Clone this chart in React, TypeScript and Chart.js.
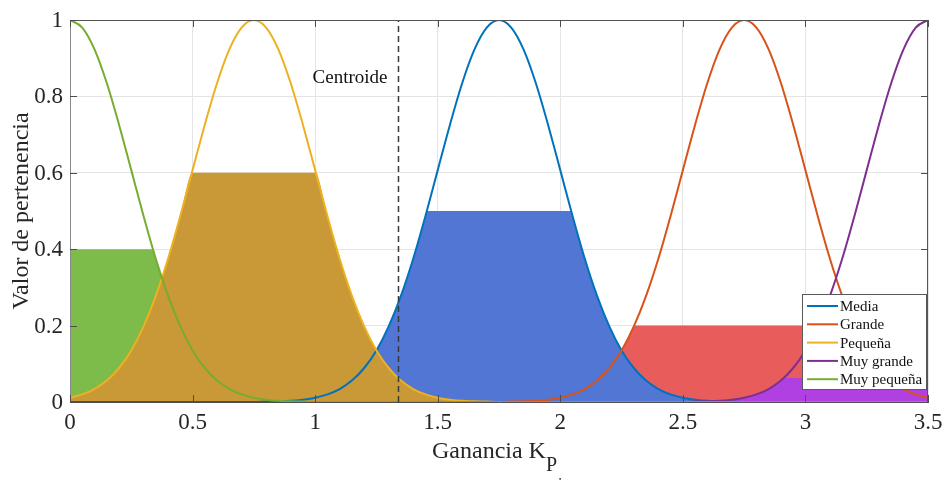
import { useEffect, useRef } from 'react';
import { Chart, registerables } from 'chart.js';

Chart.register(...registerables);

const FONT = '"Liberation Serif", "Times New Roman", serif';

// x sampling grid (Ganancia K_Pi)
const xValues = [
  0, 0.05, 0.1, 0.15, 0.2, 0.25, 0.3, 0.35, 0.4, 0.45,
  0.5, 0.55, 0.6, 0.65, 0.7, 0.75, 0.8, 0.85, 0.9, 0.95,
  1, 1.05, 1.1, 1.15, 1.2, 1.25, 1.3, 1.35, 1.4, 1.45,
  1.5, 1.55, 1.6, 1.65, 1.7, 1.75, 1.8, 1.85, 1.9, 1.95,
  2, 2.05, 2.1, 2.15, 2.2, 2.25, 2.3, 2.35, 2.4, 2.45,
  2.5, 2.55, 2.6, 2.65, 2.7, 2.75, 2.8, 2.85, 2.9, 2.95,
  3, 3.05, 3.1, 3.15, 3.2, 3.25, 3.3, 3.35, 3.4, 3.45,
  3.5,
];

const muyPequena = [
  1, 0.98, 0.923, 0.835, 0.726, 0.607, 0.487, 0.375, 0.278, 0.198,
  0.135, 0.089, 0.056, 0.034, 0.02, 0.011, 0.006, 0.003, 0.002, 0.001,
  0, 0, 0, 0, 0, 0, 0, 0, 0, 0,
  0, 0, 0, 0, 0, 0, 0, 0, 0, 0,
  0, 0, 0, 0, 0, 0, 0, 0, 0, 0,
  0, 0, 0, 0, 0, 0, 0, 0, 0, 0,
  0, 0, 0, 0, 0, 0, 0, 0, 0, 0,
  0,
];

const pequena = [
  0.011, 0.02, 0.034, 0.056, 0.089, 0.135, 0.198, 0.278, 0.375, 0.487,
  0.607, 0.726, 0.835, 0.923, 0.98, 1, 0.98, 0.923, 0.835, 0.726,
  0.607, 0.487, 0.375, 0.278, 0.198, 0.135, 0.089, 0.056, 0.034, 0.02,
  0.011, 0.006, 0.003, 0.002, 0.001, 0, 0, 0, 0, 0,
  0, 0, 0, 0, 0, 0, 0, 0, 0, 0,
  0, 0, 0, 0, 0, 0, 0, 0, 0, 0,
  0, 0, 0, 0, 0, 0, 0, 0, 0, 0,
  0,
];

const media = [
  0, 0, 0, 0, 0, 0, 0, 0, 0, 0,
  0, 0, 0, 0, 0, 0, 0.001, 0.002, 0.003, 0.006,
  0.011, 0.02, 0.034, 0.056, 0.089, 0.135, 0.198, 0.278, 0.375, 0.487,
  0.607, 0.726, 0.835, 0.923, 0.98, 1, 0.98, 0.923, 0.835, 0.726,
  0.607, 0.487, 0.375, 0.278, 0.198, 0.135, 0.089, 0.056, 0.034, 0.02,
  0.011, 0.006, 0.003, 0.002, 0.001, 0, 0, 0, 0, 0,
  0, 0, 0, 0, 0, 0, 0, 0, 0, 0,
  0,
];

const grande = [
  0, 0, 0, 0, 0, 0, 0, 0, 0, 0,
  0, 0, 0, 0, 0, 0, 0, 0, 0, 0,
  0, 0, 0, 0, 0, 0, 0, 0, 0, 0,
  0, 0, 0, 0, 0, 0, 0.001, 0.002, 0.003, 0.006,
  0.011, 0.02, 0.034, 0.056, 0.089, 0.135, 0.198, 0.278, 0.375, 0.487,
  0.607, 0.726, 0.835, 0.923, 0.98, 1, 0.98, 0.923, 0.835, 0.726,
  0.607, 0.487, 0.375, 0.278, 0.198, 0.135, 0.089, 0.056, 0.034, 0.02,
  0.011,
];

const muyGrande = [
  0, 0, 0, 0, 0, 0, 0, 0, 0, 0,
  0, 0, 0, 0, 0, 0, 0, 0, 0, 0,
  0, 0, 0, 0, 0, 0, 0, 0, 0, 0,
  0, 0, 0, 0, 0, 0, 0, 0, 0, 0,
  0, 0, 0, 0, 0, 0, 0, 0, 0, 0,
  0, 0.001, 0.002, 0.003, 0.006, 0.011, 0.02, 0.034, 0.056, 0.089,
  0.135, 0.198, 0.278, 0.375, 0.487, 0.607, 0.726, 0.835, 0.923, 0.98,
  1,
];

// activation (clip) levels and where each curve crosses its level
const muyPequenaLevel = 0.4;
const pequenaLevel = 0.6;
const mediaLevel = 0.5;
const grandeLevel = 0.2;
const muyGrandeLevel = 0.063;

const muyPequenaCuts = [0.339];
const pequenaCuts = [0.5, 1.0];
const mediaCuts = [1.456, 2.044];
const grandeCuts = [2.302, 3.198];
const muyGrandeCuts = [2.913];

const centroid = [1.34];

const xTickValues = [0, 0.5, 1, 1.5, 2, 2.5, 3, 3.5];
const xTickLabels = ['0', '0.5', '1', '1.5', '2', '2.5', '3', '3.5'];
const yTickValues = [0, 0.2, 0.4, 0.6, 0.8, 1];
const yTickLabels = ['0', '0.2', '0.4', '0.6', '0.8', '1'];

const legendLabels = ['Media', 'Grande', 'Pequeña', 'Muy grande', 'Muy pequeña'];
const legendColors = ['#0072BD', '#D95319', '#EDB120', '#7E2F8E', '#77AC30'];

const toPts = (vals: number[]) => xValues.map((x, i) => ({ x, y: vals[i] }));
const clipPts = (vals: number[], level: number, cuts: number[]) =>
  [
    ...xValues.map((x, i) => ({ x, y: Math.min(level, vals[i]) })),
    ...cuts.filter((c) => !xValues.includes(c)).map((c) => ({ x: c, y: level })),
  ].sort((a, b) => a.x - b.x);

const decor = {
  id: 'decor',
  afterDraw(chart: any) {
    const { ctx, chartArea: a, scales } = chart;
    const xs = scales.x;
    const ys = scales.y;
    ctx.save();
    // box
    ctx.strokeStyle = '#8a8a8a';
    ctx.lineWidth = 1;
    ctx.beginPath();
    ctx.moveTo(a.left + 0.5, a.bottom);
    ctx.lineTo(a.left + 0.5, a.top);
    ctx.stroke();
    ctx.strokeStyle = '#555555';
    ctx.beginPath();
    ctx.moveTo(a.left, a.top + 0.5);
    ctx.lineTo(a.right - 0.5, a.top + 0.5);
    ctx.lineTo(a.right - 0.5, a.bottom);
    ctx.stroke();
    // tick marks (inside)
    ctx.strokeStyle = '#4d4d4d';
    ctx.beginPath();
    xTickValues.forEach((v) => {
      const px = Math.round(xs.getPixelForValue(v)) + 0.5;
      ctx.moveTo(px, a.bottom);
      ctx.lineTo(px, a.bottom - 7);
      ctx.moveTo(px, a.top);
      ctx.lineTo(px, a.top + 7);
    });
    yTickValues.forEach((v) => {
      const py = Math.round(ys.getPixelForValue(v)) + 0.5;
      ctx.moveTo(a.left, py);
      ctx.lineTo(a.left + 7, py);
      ctx.moveTo(a.right, py);
      ctx.lineTo(a.right - 7, py);
    });
    ctx.stroke();

    // Centroide label
    ctx.fillStyle = '#111';
    ctx.font = `19px ${FONT}`;
    ctx.textAlign = 'right';
    ctx.textBaseline = 'alphabetic';
    ctx.fillText('Centroide', xs.getPixelForValue(centroid[0]) - 11, a.top + 63);

    // legend
    const lx = 802;
    const ly = 294;
    const lw = 124;
    const lh = 95;
    ctx.fillStyle = '#ffffff';
    ctx.fillRect(lx, ly, lw, lh);
    ctx.strokeStyle = '#5a5a5a';
    ctx.lineWidth = 1;
    ctx.strokeRect(lx + 0.5, ly + 0.5, lw, lh);
    ctx.font = `15px ${FONT}`;
    ctx.textAlign = 'left';
    ctx.textBaseline = 'middle';
    legendLabels.forEach((lab, i) => {
      const yy = ly + 12 + i * 18.3;
      ctx.strokeStyle = legendColors[i];
      ctx.lineWidth = 2;
      ctx.beginPath();
      ctx.moveTo(lx + 5, yy);
      ctx.lineTo(lx + 36, yy);
      ctx.stroke();
      ctx.fillStyle = '#111';
      ctx.fillText(lab, lx + 38, yy + 1);
    });

    // axis titles
    ctx.fillStyle = '#262626';
    ctx.save();
    ctx.translate(28, (a.top + a.bottom) / 2);
    ctx.rotate(-Math.PI / 2);
    ctx.textAlign = 'center';
    ctx.textBaseline = 'alphabetic';
    ctx.font = `24px ${FONT}`;
    ctx.fillText('Valor de pertenencia', 0, 0);
    ctx.restore();

    ctx.textAlign = 'left';
    ctx.textBaseline = 'alphabetic';
    ctx.font = `24px ${FONT}`;
    const main = 'Ganancia K';
    const x0 = 432;
    ctx.fillText(main, x0, 458);
    const w1 = ctx.measureText(main).width;
    ctx.font = `20px ${FONT}`;
    ctx.fillText('P', x0 + w1, 471);
    const w2 = ctx.measureText('P').width;
    ctx.font = `16px ${FONT}`;
    ctx.fillText('i', x0 + w1 + w2 + 1, 489);
    ctx.restore();
  },
};

export default function App() {
  const ref = useRef<HTMLCanvasElement | null>(null);

  useEffect(() => {
    if (!ref.current) return;
    const lineDs = (label: string, vals: number[], color: string) => ({
      label,
      data: toPts(vals),
      borderColor: color,
      backgroundColor: color,
      borderWidth: 2,
      pointRadius: 0,
      fill: false,
      cubicInterpolationMode: 'monotone' as const,
      order: 0,
    });
    const fillDs = (label: string, pts: any[], color: string, order: number) => ({
      label,
      data: pts,
      borderColor: 'rgba(0,0,0,0)',
      backgroundColor: color,
      borderWidth: 0,
      pointRadius: 0,
      fill: 'origin',
      cubicInterpolationMode: 'monotone' as const,
      order,
    });

    const chart = new Chart(ref.current, {
      type: 'line',
      data: {
        datasets: [
          {
            label: 'Centroide',
            data: [
              { x: centroid[0], y: 0 },
              { x: centroid[0], y: 1 },
            ],
            borderColor: '#3a3a3a',
            borderWidth: 1.5,
            borderDash: [6, 4],
            pointRadius: 0,
            fill: false,
            order: 0,
          },
          lineDs('Muy pequeña', muyPequena, '#77AC30'),
          lineDs('Muy grande', muyGrande, '#7E2F8E'),
          lineDs('Pequeña', pequena, '#EDB120'),
          lineDs('Grande', grande, '#D95319'),
          lineDs('Media', media, '#0072BD'),
          fillDs('Pequeña fill', clipPts(pequena, pequenaLevel, pequenaCuts), '#C89936', 1),
          fillDs('Muy pequeña fill', clipPts(muyPequena, muyPequenaLevel, muyPequenaCuts), '#7DBB4A', 2),
          fillDs('Media fill', clipPts(media, mediaLevel, mediaCuts), '#5176D4', 3),
          fillDs('Muy grande fill', clipPts(muyGrande, muyGrandeLevel, muyGrandeCuts), '#B040E2', 4),
          fillDs('Grande fill', clipPts(grande, grandeLevel, grandeCuts), '#E85C5C', 5),
        ] as any,
      },
      options: {
        animation: false,
        responsive: true,
        maintainAspectRatio: false,
        parsing: true,
        layout: { padding: { left: 0, right: 15, top: 20, bottom: 0 } },
        plugins: { legend: { display: false }, tooltip: { enabled: false } },
        scales: {
          x: {
            type: 'linear',
            min: 0,
            max: 3.5,
            afterBuildTicks: (s: any) => {
              s.ticks = xTickValues.map((v) => ({ value: v }));
            },
            afterFit: (s: any) => {
              s.height = 79;
              s.paddingLeft = 0;
              s.paddingRight = 0;
            },
            ticks: {
              autoSkip: false,
              maxRotation: 0,
              padding: 7,
              color: '#262626',
              font: { family: FONT, size: 23 },
              callback: (_v: any, i: number) => xTickLabels[i],
            },
            grid: { color: '#e4e4e4', lineWidth: 1, drawTicks: false },
            border: { display: true, color: '#4d4d4d' },
          },
          y: {
            type: 'linear',
            min: 0,
            max: 1,
            afterBuildTicks: (s: any) => {
              s.ticks = yTickValues.map((v) => ({ value: v }));
            },
            afterFit: (s: any) => {
              s.width = 70;
              s.paddingTop = 0;
              s.paddingBottom = 0;
            },
            ticks: {
              autoSkip: false,
              padding: 7,
              labelOffset: 1,
              color: '#262626',
              font: { family: FONT, size: 23 },
              callback: (_v: any, i: number) => yTickLabels[i],
            },
            grid: { color: '#e4e4e4', lineWidth: 1, drawTicks: false },
            border: { display: true, color: '#8a8a8a' },
          },
        },
      } as any,
      plugins: [decor],
    });
    return () => chart.destroy();
  }, []);

  return (
    <div style={{ position: 'fixed', left: 0, top: 0, width: 943, height: 481, background: '#fff' }}>
      <canvas ref={ref} />
    </div>
  );
}
